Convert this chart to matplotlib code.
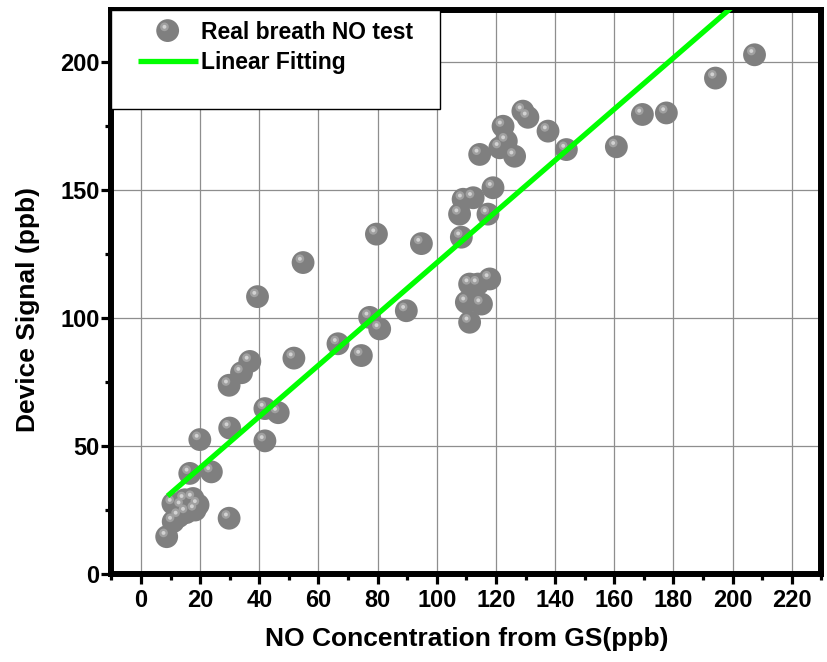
import matplotlib
matplotlib.use("Agg")
import numpy as np
import matplotlib.pyplot as plt
from matplotlib.path import Path
from matplotlib.patches import Rectangle
from matplotlib.legend_handler import HandlerTuple
from matplotlib.ticker import MultipleLocator

# NO concentration measured by gas sensor (GS) vs. device reading, ppb
gs_conc = [8.7, 10.9, 12.8, 15.3, 18.3, 19.3, 10.8, 13.8, 14.8, 17.6,
           16.5, 23.8, 19.9, 29.8, 30.0, 41.9, 41.9, 46.4, 29.8, 34.0,
           36.8, 39.4, 51.7, 54.8, 66.6, 74.5, 77.3, 80.7, 79.6, 89.7,
           94.8, 107.7, 108.3, 108.9, 112.3, 117.3, 119.0, 110.0, 111.1, 111.1,
           113.9, 115.1, 117.9, 114.5, 121.3, 122.4, 123.5, 126.3, 129.1, 130.8,
           137.6, 143.8, 160.7, 169.5, 177.6, 194.2, 207.4]
device_signal = [14.6, 20.5, 22.5, 24.0, 25.0, 27.0, 27.5, 26.5, 29.0, 29.5,
                 39.3, 39.9, 52.5, 21.8, 57.0, 52.0, 64.6, 63.0, 73.7, 78.6,
                 83.0, 108.3, 84.3, 121.6, 89.9, 85.3, 100.2, 95.7, 132.7, 102.8,
                 129.0, 140.5, 131.5, 146.3, 146.9, 140.5, 150.8, 106.1, 98.3, 113.2,
                 113.2, 105.4, 115.2, 163.8, 166.4, 174.8, 169.0, 163.1, 180.7, 178.3,
                 172.9, 165.7, 166.8, 179.4, 180.0, 193.6, 202.7]

# linear fit y = slope * x + intercept, drawn over the measured span
fit_slope = 1.0
fit_intercept = 21.5
fit_x_range = [9.0, 207.4]

x_ticks = list(range(0, 221, 20))
y_ticks = list(range(0, 201, 50))

plt.rcParams["font.family"] = ["Liberation Sans", "DejaVu Sans"]
plt.rcParams["font.weight"] = "bold"


def shine_marker(cx, cy, r):
    """Off-centre highlight spot, framed so it scales like a unit circle."""
    frame = Path([(-1.0, -1.0), (1.0, 1.0)], [Path.MOVETO, Path.MOVETO])
    spot = Path.circle((cx, cy), r)
    return Path.make_compound_path(frame, spot)


fig = plt.figure(figsize=(8.28, 6.62), dpi=100)
ax = fig.add_axes([0.1345, 0.1328, 0.8575, 0.8514])

ball_size = 270
body = ax.scatter(gs_conc, device_signal, s=ball_size, c="#7f7f7f",
                  edgecolors="none", zorder=3)
glow = ax.scatter(gs_conc, device_signal, s=ball_size,
                  marker=shine_marker(-0.28, 0.33, 0.38), c="#a0a0a0",
                  edgecolors="none", zorder=3)
spark = ax.scatter(gs_conc, device_signal, s=ball_size,
                   marker=shine_marker(-0.28, 0.33, 0.17), c="#d2d2d2",
                   edgecolors="none", zorder=3)

fx = np.array(fit_x_range)
fit_line, = ax.plot(fx, fit_slope * fx + fit_intercept, color="#00ff00",
                    lw=3.8, solid_capstyle="butt", zorder=4)

ax.set_xlim(-10, 230)
ax.set_ylim(0, 220)
ax.xaxis.set_major_locator(MultipleLocator(20))
ax.xaxis.set_minor_locator(MultipleLocator(10))
ax.yaxis.set_major_locator(MultipleLocator(50))
ax.yaxis.set_minor_locator(MultipleLocator(25))
ax.set_xticks(x_ticks)
ax.set_yticks(y_ticks)

ax.grid(True, which="major", color="#8e8e8e", lw=0.9)
ax.set_axisbelow(True)

for sp in ax.spines.values():
    sp.set_linewidth(4.3)
    sp.set_color("black")

ax.tick_params(which="major", direction="out", length=7.5, width=2.3,
               labelsize=17, top=False, right=False, color="black")
ax.tick_params(which="minor", direction="out", length=4.5, width=2.3,
               top=False, right=False, color="black")
ax.tick_params(axis="x", which="major", pad=3)
ax.tick_params(axis="y", which="major", pad=1)

ax.set_xlabel("NO Concentration from GS(ppb)", fontsize=19, fontweight="bold",
              va="center")
ax.set_ylabel("Device Signal (ppb)", fontsize=19, fontweight="bold",
              va="center")
ax.xaxis.set_label_coords(0.5, -0.115)
ax.yaxis.set_label_coords(-0.117, 0.47)

# legend panel in the upper-left corner
ax.add_patch(Rectangle((0.0, 0.8248), 0.4625, 0.1752, transform=ax.transAxes,
                       facecolor="white", edgecolor="black", lw=1.0, zorder=5,
                       clip_on=False))
leg = ax.legend([(body, glow, spark), fit_line],
                ["Real breath NO test", "Linear Fitting"],
                handler_map={tuple: HandlerTuple(ndivide=1, pad=0)},
                loc="upper left", bbox_to_anchor=(0.037, 0.982),
                borderaxespad=0, borderpad=0, frameon=False,
                scatterpoints=1, scatteryoffsets=[0.5],
                handlelength=2.62, handletextpad=0.13, labelspacing=0.33,
                prop={"size": 16.5, "weight": "bold"})
leg.set_zorder(6)

fig.savefig("out.png", dpi=100)
